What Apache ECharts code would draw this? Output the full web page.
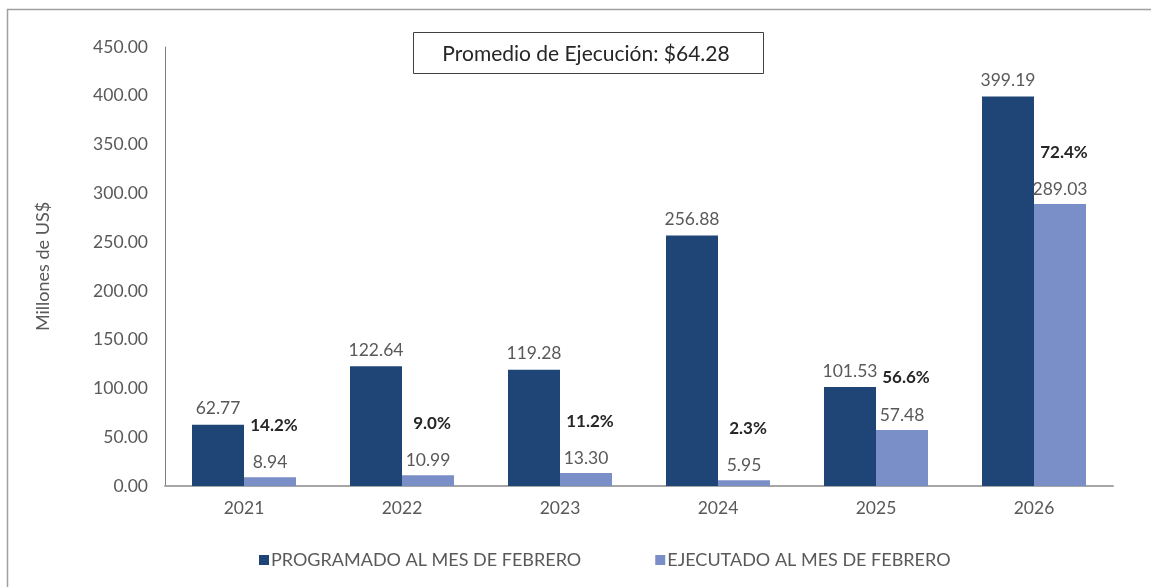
<!DOCTYPE html>
<html>
<head>
<meta charset="utf-8">
<script src="https://cdn.jsdelivr.net/npm/echarts@6/dist/echarts.min.js"></script>
<style>
  html, body { margin: 0; padding: 0; background: #fff; }
  #chart { width: 1151px; height: 587px; }
</style>
</head>
<body>
<div id="chart"></div>
<script>
// datos
var years = ['2021', '2022', '2023', '2024', '2025', '2026']
var programado = [62.77, 122.64, 119.28, 256.88, 101.53, 399.19]
var ejecutado = [8.94, 10.99, 13.30, 5.95, 57.48, 289.03]
var yTicks = [0, 50, 100, 150, 200, 250, 300, 350, 400, 450]

var FONT = 'Lato, "Open Sans", sans-serif'
var GRAY = '#595959'

// porcentaje de ejecucion por anio
var pct = ejecutado.map(function (v, i) {
  return (v / programado[i] * 100).toFixed(1) + '%'
})
// promedio del ejecutado
var promedio = ejecutado.reduce(function (a, b) { return a + b }, 0) / ejecutado.length

var chart = echarts.init(document.getElementById('chart'))

var option = {
  animation: false,
  textStyle: { fontFamily: FONT },
  grid: { left: 165, right: 38, top: 47, bottom: 101 },
  legend: {
    bottom: 13,
    left: 254,
    itemWidth: 10,
    itemHeight: 10,
    itemGap: 74,
    icon: 'rect',
    textStyle: { fontSize: 18, color: GRAY, fontFamily: FONT, padding: [0, 0, 0, -3] }
  },
  xAxis: {
    type: 'category',
    data: years,
    axisTick: { show: false },
    axisLine: { lineStyle: { color: '#a6a6a6', width: 2 } },
    axisLabel: { fontSize: 17.5, color: GRAY, margin: 13 }
  },
  yAxis: {
    type: 'value',
    min: yTicks[0],
    max: yTicks[yTicks.length - 1],
    interval: 50,
    name: 'Millones de US$',
    nameLocation: 'middle',
    nameGap: 113,
    nameTextStyle: { fontSize: 18, color: GRAY, fontFamily: FONT },
    splitLine: { show: false },
    axisTick: { show: false },
    axisLine: { show: true, lineStyle: { color: '#808080', width: 1 } },
    axisLabel: {
      fontSize: 17.5,
      color: GRAY,
      margin: 17,
      formatter: function (v) { return v.toFixed(2) }
    }
  },
  series: [
    {
      name: 'PROGRAMADO AL MES DE FEBRERO',
      type: 'bar',
      data: programado,
      barWidth: 52,
      barGap: '0%',
      itemStyle: { color: '#1f4577' },
      label: {
        show: true,
        position: 'top',
        distance: 7,
        fontSize: 17.5,
        color: GRAY,
        formatter: function (p) { return p.value.toFixed(2) }
      }
    },
    {
      name: 'EJECUTADO AL MES DE FEBRERO',
      type: 'bar',
      data: ejecutado,
      barWidth: 52,
      barGap: '0%',
      itemStyle: { color: '#7a8fc7' },
      label: {
        show: true,
        position: 'top',
        distance: 4,
        formatter: function (p) {
          return '{p|' + pct[p.dataIndex] + '}\n{v|' + p.value.toFixed(2) + '}'
        },
        rich: {
          p: { fontSize: 17, fontWeight: 'bold', color: '#262626', lineHeight: 52, fontFamily: FONT, padding: [0, 0, 0, 8] },
          v: { fontSize: 17.5, color: GRAY, lineHeight: 22, fontFamily: FONT }
        }
      }
    }
  ],
  graphic: [
    {
      type: 'rect',
      silent: true,
      shape: { x: 7.5, y: 9.5, width: 1200, height: 700 },
      style: { fill: 'none', stroke: '#a0a0a0', lineWidth: 1.5 }
    },
    {
      type: 'rect',
      silent: true,
      shape: { x: 413.5, y: 32.5, width: 350, height: 41 },
      style: { fill: '#fff', stroke: '#404040', lineWidth: 1 }
    },
    {
      type: 'text',
      silent: true,
      x: 586,
      y: 54,
      style: {
        text: 'Promedio de Ejecución: $' + promedio.toFixed(2),
        fontSize: 21,
        fontFamily: FONT,
        fill: '#262626',
        align: 'center',
        verticalAlign: 'middle'
      }
    }
  ]
}

chart.setOption(option)
</script>
</body>
</html>
